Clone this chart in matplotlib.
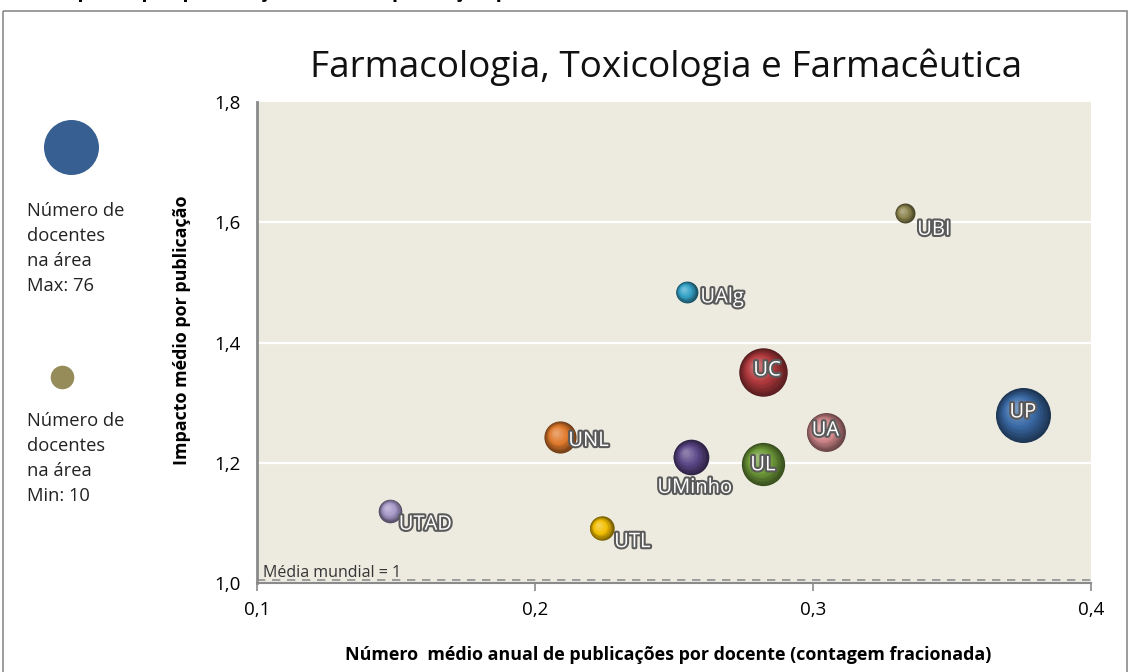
import numpy as np
import matplotlib
matplotlib.use("Agg")
import matplotlib.pyplot as plt
import matplotlib.patheffects as pe
from matplotlib import font_manager
from matplotlib.colors import to_rgb
from matplotlib.transforms import offset_copy
from matplotlib.patches import Rectangle

# --- data ---
universities = ["UBI", "UAlg", "UC", "UP", "UA", "UNL", "UMinho", "UL", "UTAD", "UTL"]
pubs_per_teacher = [0.333, 0.2545, 0.282, 0.3755, 0.3045, 0.209, 0.256, 0.282, 0.148, 0.224]
impact = [1.615, 1.484, 1.351, 1.279, 1.251, 1.243, 1.209, 1.198, 1.120, 1.091]
n_teachers = [10, 12, 59, 76, 38, 26, 32, 47, 14, 15]
colors = ["#8E8650", "#35A3C8", "#B23A3E", "#3A6AA6", "#D48A8E", "#E07A2C",
          "#5B4687", "#6F9C3A", "#A698C8", "#F2BE00"]
x_ticks = [0.1, 0.2, 0.3, 0.4]
y_ticks = [1.0, 1.2, 1.4, 1.6, 1.8]
world_mean = 1.0

names = {f.name for f in font_manager.fontManager.ttflist}
narrow = "Liberation Sans Narrow" if "Liberation Sans Narrow" in names else "Open Sans"
plt.rcParams["font.family"] = [narrow, "DejaVu Sans"]

W, H = 1130, 672
fig = plt.figure(figsize=(W / 100, H / 100), dpi=100)

# full-figure overlay for border, legend bubbles and texts (pixel coords)
bg = fig.add_axes([0, 0, 1, 1], zorder=-1)
bg.set_xlim(0, W)
bg.set_ylim(H, 0)
bg.axis("off")
bg.add_patch(Rectangle((3, 11), 1124, 700, fill=False, ec="#8a8a8a", lw=1.2, clip_on=False))

max_n = max(n_teachers)


def diam_pt(n):
    # bubble diameter in points, area proportional to number of teachers
    return 55 * np.sqrt(n / max_n) * 0.72


bg.scatter([71], [147], s=[diam_pt(max_n) ** 2], color="#375F92", lw=0)
bg.scatter([62], [377], s=[diam_pt(min(n_teachers)) ** 2 * 1.4], color="#958C5A", lw=0)
bg.text(27, 202, "Número de\ndocentes\nna área\nMax: %d" % max_n, fontsize=13.2,
        family=["Open Sans", "DejaVu Sans"], va="top", ha="left", linespacing=1.5, color="#222222")
bg.text(27, 412, "Número de\ndocentes\nna área\nMin: %d" % min(n_teachers), fontsize=13.2,
        family=["Open Sans", "DejaVu Sans"], va="top", ha="left", linespacing=1.5, color="#222222")
# header of the slide, cut off at the top edge in the original
bg.text(50, -3, "Impacto por publicação versus a produção por docente", fontsize=15,
        fontweight="bold", va="baseline", ha="left", clip_on=False)

# --- main plot ---
ax = fig.add_axes([257 / W, 1 - 583 / H, 834 / W, 481 / H])
ax.set_facecolor("#EDEBE0")
ax.set_xlim(0.1, 0.4)
ax.set_ylim(1.0, 1.8)
ax.set_xticks(x_ticks)
ax.set_yticks(y_ticks)
ax.set_xticklabels([("%.1f" % v).replace(".", ",") for v in x_ticks], fontsize=13.5)
ax.set_yticklabels([("%.1f" % v).replace(".", ",") for v in y_ticks], fontsize=13.5)
ax.tick_params(axis="x", length=6, color="#8a8a8a", width=1.2, pad=7)
ax.tick_params(axis="y", length=0, pad=12)
for s in ["top", "right"]:
    ax.spines[s].set_visible(False)
ax.spines["left"].set_color("#8a8a8a")
ax.spines["left"].set_linewidth(2)
ax.spines["bottom"].set_color("#8a8a8a")
ax.spines["bottom"].set_linewidth(1.5)
for yv in y_ticks[1:-1]:
    ax.axhline(yv, color="white", lw=1.6, zorder=1)

ax.axhline(world_mean + 0.005, color="#8f8f8f", lw=1.2, ls=(0, (5, 4)), zorder=2)
ax.text(0.102, world_mean + 0.003, "Média mundial = 1", fontsize=11.5, va="bottom",
        ha="left", color="#333333", zorder=3)

ax.set_xlabel("Número  médio anual de publicações por docente (contagem fracionada)",
              fontsize=12.9, fontweight="bold")
ax.xaxis.set_label_coords(0.493, -0.13)
ax.set_ylabel("Impacto médio por publicação", fontsize=12.9, fontweight="bold")
ax.yaxis.set_label_coords(-0.079, 0.526)

# shaded "spheres"
layers = 16
for x, y, n, c in zip(pubs_per_teacher, impact, n_teachers, colors):
    d = diam_pt(n)
    base = np.array(to_rgb(c))
    for k in range(layers):
        t = k / (layers - 1)
        f = 1 - 0.85 * t
        if t < 0.5:
            col = base * (0.5 + t)
        else:
            col = base + (1 - base) * (t - 0.5) * 0.6
        col = np.clip(col, 0, 1)
        off = (1 - f) * d * 0.16
        tr = offset_copy(ax.transData, fig=fig, x=-off, y=off, units="points")
        ax.scatter([x], [y], s=[(d * f) ** 2], color=[col], lw=0, transform=tr, zorder=4 + k * 0.001)

# labels: offset in points from bubble centre
label_offsets = {
    "UBI": (9, -12, "left"), "UAlg": (10, -4, "left"), "UC": (3, 1, "center"),
    "UP": (0, 2, "center"), "UA": (0, 1, "center"), "UNL": (6, -3, "left"),
    "UMinho": (3, -22, "center"), "UL": (0, -1, "center"), "UTAD": (6, -10, "left"),
    "UTL": (9, -10, "left"),
}
for name, x, y in zip(universities, pubs_per_teacher, impact):
    dx, dy, ha = label_offsets[name]
    ax.annotate(name, (x, y), xytext=(dx, dy), textcoords="offset points", ha=ha, va="center",
                fontsize=14.5, color="white", zorder=10,
                path_effects=[pe.withStroke(linewidth=3, foreground="#5a5a5a")])

fig.text(666 / W, 1 - 67 / H, "Farmacologia, Toxicologia e Farmacêutica", fontsize=26.6,
         family=["Open Sans", "DejaVu Sans"], ha="center", va="center", color="#111111")

fig.savefig("out.png", dpi=100)
